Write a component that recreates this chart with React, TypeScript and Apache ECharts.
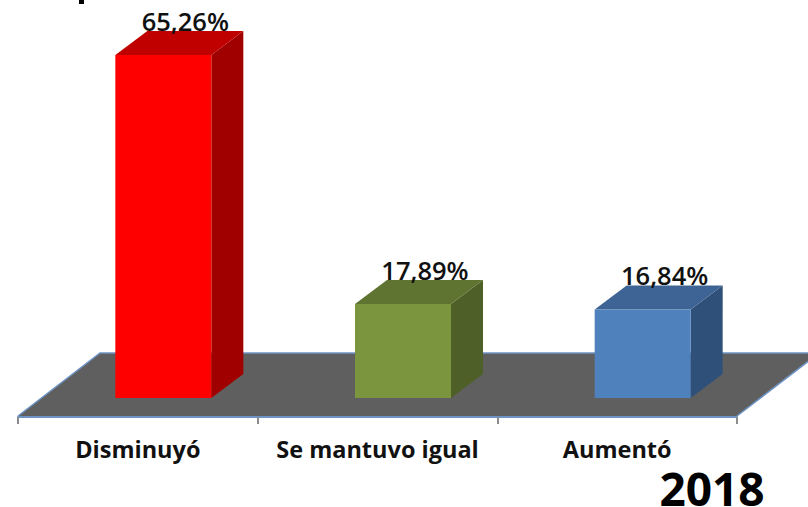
import React, { useEffect, useRef } from "react";
import * as echarts from "echarts";

const categories = ["Disminuyó", "Se mantuvo igual", "Aumentó"];
const values = [65.26, 17.89, 16.84];
const valueLabels = ["65,26%", "17,89%", "16,84%"];
const frontColors = ["#ff0000", "#7a953d", "#4f81bd"];
const topColors = ["#c00000", "#5f7430", "#3d6494"];
const sideColors = ["#a00000", "#4e6027", "#2f5079"];
const yearLabel = "2018";
const FONT = "'Open Sans', sans-serif";

export default function App() {
  const ref = useRef<HTMLDivElement>(null);
  useEffect(() => {
    document.body.style.margin = "0";
    const chart = echarts.init(ref.current!, undefined, { renderer: "svg" });
    chart.setOption({
      animation: false,
      backgroundColor: "#ffffff",
      grid: { left: 18, right: 71, top: 0, bottom: 90 },
      xAxis: {
        type: "category",
        data: categories,
        axisLine: { onZero: false, lineStyle: { color: "#6d93c4", width: 2 } },
        axisTick: { show: true, length: 7, lineStyle: { color: "#8c8c8c", width: 2 } },
        axisLabel: {
          color: "#111",
          fontFamily: FONT,
          fontWeight: 700,
          fontSize: 23.5,
          margin: 20,
          interval: 0,
        },
      },
      yAxis: {
        type: "value",
        min: -3.615,
        max: 75.72,
        show: false,
        splitLine: { show: false },
      },
      graphic: [
        {
          type: "text",
          z: 10,
          x: 712,
          y: 488,
          style: {
            text: yearLabel,
            font: `700 46px ${FONT}`,
            lineHeight: 36,
            fill: "#000",
            align: "center",
            verticalAlign: "middle",
          },
        },
        { type: "rect", z: 10, shape: { x: 79, y: 0, width: 5, height: 4 }, style: { fill: "#000" } },
      ],
      series: [
        {
          type: "custom",
          coordinateSystem: "cartesian2d",
          clip: false,
          silent: true,
          z: 1,
          data: [[0, 0]],
          renderItem: () => {
            const xl = 18, xr = 737, yb = 416, yt = 353, dx = 82;
            return {
              type: "group",
              children: [
                {
                  type: "polygon",
                  shape: { points: [[xl, yb], [xl + dx, yt], [xr + dx, yt], [xr, yb]] },
                  style: { fill: "#5f5f5f" },
                },
                {
                  type: "polyline",
                  shape: { points: [[xl, yb], [xl + dx, yt], [xr + dx, yt], [xr, yb]] },
                  style: { fill: "none", stroke: "#6d93c4", lineWidth: 1.5 },
                },
              ],
            };
          },
        },
        {
          type: "custom",
          coordinateSystem: "cartesian2d",
          clip: false,
          silent: true,
          z: 3,
          data: values.map((v, i) => [i, v]),
          encode: { x: 0, y: 1 },
          renderItem: (p: any, api: any) => {
            const i = p.dataIndex;
            const top = api.coord([api.value(0), api.value(1)]);
            const base = api.coord([api.value(0), 0]);
            const xL = top[0] - 48 + 25.5;
            const xR = xL + 96;
            const yT = top[1];
            const yB = base[1];
            const dx = 32, dy = 24;
            return {
              type: "group",
              children: [
                {
                  type: "polygon",
                  shape: { points: [[xR, yT], [xR + dx, yT - dy], [xR + dx, yB - dy], [xR, yB]] },
                  style: { fill: sideColors[i] },
                },
                {
                  type: "polygon",
                  shape: { points: [[xL, yT], [xL + dx, yT - dy], [xR + dx, yT - dy], [xR, yT]] },
                  style: { fill: topColors[i] },
                },
                { type: "rect", shape: { x: xL, y: yT, width: 96, height: yB - yT }, style: { fill: frontColors[i] } },
                {
                  type: "text",
                  x: xL + 70,
                  y: yT - 34,
                  style: {
                    text: valueLabels[i],
                    font: `600 25.5px ${FONT}`,
                    fill: "#111",
                    align: "center",
                    verticalAlign: "middle",
                  },
                },
              ],
            };
          },
        },
      ],
    });
    return () => chart.dispose();
  }, []);
  return <div ref={ref} style={{ width: 808, height: 507 }} />;
}
